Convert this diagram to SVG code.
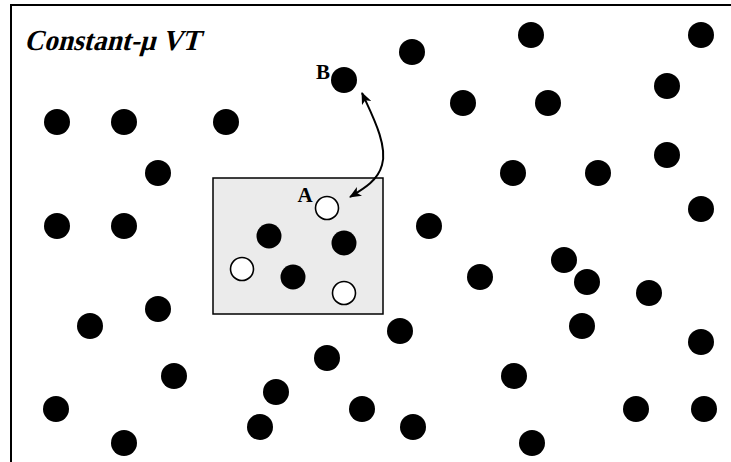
<svg xmlns="http://www.w3.org/2000/svg" width="731" height="462" viewBox="0 0 731 462">
<style>
.p{fill:#000}
.o{fill:#fff;stroke:#000;stroke-width:1.6}
.lbl{font-family:"Liberation Serif","Times New Roman",serif;font-weight:bold;fill:#000}
</style>
<defs>
<marker id="ah" viewBox="0 0 12 10" refX="11" refY="5" markerWidth="13" markerHeight="10" markerUnits="userSpaceOnUse" orient="auto-start-reverse">
<path d="M0,0 L12,5 L0,10 L3,5 Z" fill="#000"/>
</marker>
</defs>
<rect width="731" height="462" fill="#fff"/>
<g id="frame">
<path d="M11,464 L11,5 L731,5" fill="none" stroke="#000" stroke-width="2"/>
</g>
<g id="title" transform="translate(24,50) skewX(-15)">
<text x="0" y="0" class="lbl" font-size="29" textLength="176" lengthAdjust="spacingAndGlyphs">Constant-μ VT</text>
</g>
<g id="subvolume">
<rect x="213" y="178" width="170" height="136" fill="#ebebeb" stroke="#000" stroke-width="1.5"/>
</g>
<g id="particles">
<circle class="p" cx="412" cy="52" r="13"/>
<circle class="p" cx="531" cy="35" r="13"/>
<circle class="p" cx="701" cy="35" r="13"/>
<circle class="p" cx="344" cy="80" r="13"/>
<circle class="p" cx="463" cy="103" r="13"/>
<circle class="p" cx="548" cy="103" r="13"/>
<circle class="p" cx="667" cy="86" r="13"/>
<circle class="p" cx="57" cy="122" r="13"/>
<circle class="p" cx="124" cy="122" r="13"/>
<circle class="p" cx="226" cy="122" r="13"/>
<circle class="p" cx="158" cy="173" r="13"/>
<circle class="p" cx="513" cy="173" r="13"/>
<circle class="p" cx="598" cy="173" r="13"/>
<circle class="p" cx="667" cy="155" r="13"/>
<circle class="p" cx="701" cy="209" r="13"/>
<circle class="p" cx="57" cy="226" r="13"/>
<circle class="p" cx="124" cy="226" r="13"/>
<circle class="p" cx="429" cy="226" r="13"/>
<circle class="p" cx="564" cy="260" r="13"/>
<circle class="p" cx="480" cy="277" r="13"/>
<circle class="p" cx="587" cy="282" r="13"/>
<circle class="p" cx="649" cy="293" r="13"/>
<circle class="p" cx="158" cy="309" r="13"/>
<circle class="p" cx="90" cy="326" r="13"/>
<circle class="p" cx="400" cy="331" r="13"/>
<circle class="p" cx="582" cy="326" r="13"/>
<circle class="p" cx="701" cy="342" r="13"/>
<circle class="p" cx="327" cy="358" r="13"/>
<circle class="p" cx="174" cy="376" r="13"/>
<circle class="p" cx="514" cy="376" r="13"/>
<circle class="p" cx="276" cy="392" r="13"/>
<circle class="p" cx="56" cy="409" r="13"/>
<circle class="p" cx="362" cy="409" r="13"/>
<circle class="p" cx="636" cy="409" r="13"/>
<circle class="p" cx="704" cy="409" r="13"/>
<circle class="p" cx="260" cy="427" r="13"/>
<circle class="p" cx="413" cy="427" r="13"/>
<circle class="p" cx="124" cy="443" r="13"/>
<circle class="p" cx="532" cy="443" r="13"/>
<circle class="p" cx="269" cy="236" r="12.5"/>
<circle class="p" cx="344" cy="243" r="12.5"/>
<circle class="p" cx="293" cy="277" r="12.5"/>
<circle class="o" cx="327" cy="208" r="11.5"/>
<circle class="o" cx="242" cy="269" r="11.5"/>
<circle class="o" cx="344" cy="293" r="11.5"/>
</g>
<g id="labels">
<text x="305" y="202" class="lbl" font-size="21" text-anchor="middle">A</text>
<text x="323" y="79" class="lbl" font-size="21" text-anchor="middle">B</text>
</g>
<g id="connectors">
<path d="M362,93 C372,115 388,145 382,165 C378,180 365,188 350,197" fill="none" stroke="#000" stroke-width="2" marker-start="url(#ah)" marker-end="url(#ah)"/>
</g>
</svg>
